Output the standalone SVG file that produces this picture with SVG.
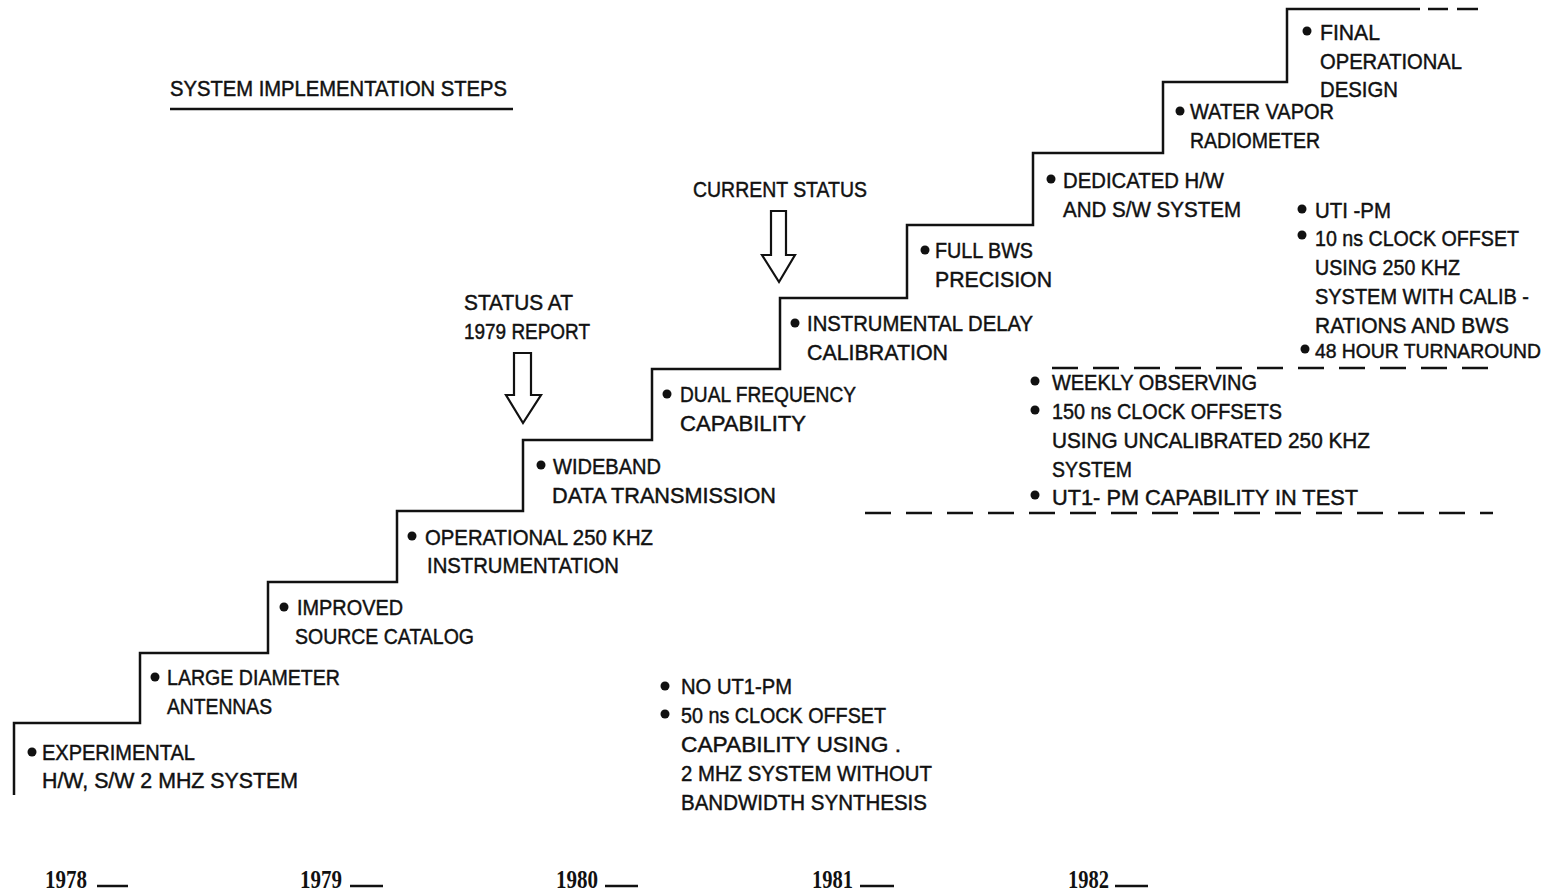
<svg xmlns="http://www.w3.org/2000/svg" width="1550" height="893" viewBox="0 0 1550 893">
<style>
.t{font-family:"Liberation Sans","Arial",sans-serif;font-size:22px;fill:#111;stroke:#111;stroke-width:0.45;}
.y{font-family:"Liberation Serif","Times New Roman",serif;font-size:25px;font-weight:bold;fill:#111;}
.ln{stroke:#111;stroke-width:2.5;fill:none;}
.ds{stroke:#111;stroke-width:2.5;fill:none;stroke-dasharray:26 15;}
.ar{stroke:#111;stroke-width:2.2;fill:#fff;}
circle{fill:#111;}
</style>
<rect width="1550" height="893" fill="#fff"/>
<g id="title">
<text class="t" x="170" y="96" textLength="337" lengthAdjust="spacingAndGlyphs">SYSTEM IMPLEMENTATION STEPS</text>
<line class="ln" x1="170" y1="109" x2="513" y2="109" stroke-width="1.8"/>
</g>
<g id="connectors">
<polyline class="ln" points="14,795 14,723 140,723 140,653 268,653 268,582 397,582 397,511 523,511 523,440 652,440 652,369 780,369 780,298 907,298 907,225 1033,225 1033,153 1163,153 1163,82 1287,82 1287,9 1420,9"/>
<line class="ln" x1="1428" y1="9" x2="1448" y2="9"/>
<line class="ln" x1="1457" y1="9" x2="1478" y2="9"/>
<line class="ds" x1="1052" y1="368" x2="1493" y2="368"/>
<line class="ds" x1="865" y1="513" x2="1493" y2="513"/>
</g>
<g id="arrow-1979"><polygon class="ar" points="514,353 531,353 531,395 541,395 523,423 506,395 514,395"/></g>
<g id="arrow-current"><polygon class="ar" points="771,211 786,211 786,255 795,255 779,282 762,255 771,255"/></g>
<g id="label-1979">
<text class="t" x="464" y="310" textLength="109" lengthAdjust="spacingAndGlyphs">STATUS AT</text>
<text class="t" x="464" y="339" textLength="126" lengthAdjust="spacingAndGlyphs">1979 REPORT</text>
</g>
<g id="label-current">
<text class="t" x="693" y="197" textLength="174" lengthAdjust="spacingAndGlyphs">CURRENT STATUS</text>
</g>
<g id="step1">
<circle cx="32" cy="752" r="4.5"/>
<text class="t" x="42" y="760" textLength="153" lengthAdjust="spacingAndGlyphs">EXPERIMENTAL</text>
<text class="t" x="42" y="788" textLength="256" lengthAdjust="spacingAndGlyphs">H/W, S/W 2 MHZ SYSTEM</text>
</g>
<g id="step2">
<circle cx="155" cy="677" r="4.5"/>
<text class="t" x="167" y="685" textLength="173" lengthAdjust="spacingAndGlyphs">LARGE DIAMETER</text>
<text class="t" x="167" y="714" textLength="105" lengthAdjust="spacingAndGlyphs">ANTENNAS</text>
</g>
<g id="step3">
<circle cx="284" cy="607" r="4.5"/>
<text class="t" x="297" y="615" textLength="106" lengthAdjust="spacingAndGlyphs">IMPROVED</text>
<text class="t" x="295" y="644" textLength="179" lengthAdjust="spacingAndGlyphs">SOURCE CATALOG</text>
</g>
<g id="step4">
<circle cx="412" cy="536" r="4.5"/>
<text class="t" x="425" y="545" textLength="228" lengthAdjust="spacingAndGlyphs">OPERATIONAL 250 KHZ</text>
<text class="t" x="427" y="573" textLength="192" lengthAdjust="spacingAndGlyphs">INSTRUMENTATION</text>
</g>
<g id="step5">
<circle cx="541" cy="465" r="4.5"/>
<text class="t" x="553" y="474" textLength="108" lengthAdjust="spacingAndGlyphs">WIDEBAND</text>
<text class="t" x="552" y="503" textLength="224" lengthAdjust="spacingAndGlyphs">DATA TRANSMISSION</text>
</g>
<g id="step6">
<circle cx="667" cy="394" r="4.5"/>
<text class="t" x="680" y="402" textLength="176" lengthAdjust="spacingAndGlyphs">DUAL FREQUENCY</text>
<text class="t" x="680" y="431" textLength="126" lengthAdjust="spacingAndGlyphs">CAPABILITY</text>
</g>
<g id="step7">
<circle cx="795" cy="323" r="4.5"/>
<text class="t" x="807" y="331" textLength="226" lengthAdjust="spacingAndGlyphs">INSTRUMENTAL DELAY</text>
<text class="t" x="807" y="360" textLength="141" lengthAdjust="spacingAndGlyphs">CALIBRATION</text>
</g>
<g id="step8">
<circle cx="925" cy="250" r="4.5"/>
<text class="t" x="935" y="258" textLength="98" lengthAdjust="spacingAndGlyphs">FULL BWS</text>
<text class="t" x="935" y="287" textLength="117" lengthAdjust="spacingAndGlyphs">PRECISION</text>
</g>
<g id="step9">
<circle cx="1051" cy="179" r="4.5"/>
<text class="t" x="1063" y="188" textLength="161" lengthAdjust="spacingAndGlyphs">DEDICATED H/W</text>
<text class="t" x="1063" y="217" textLength="178" lengthAdjust="spacingAndGlyphs">AND S/W SYSTEM</text>
</g>
<g id="step10">
<circle cx="1180" cy="111" r="4.5"/>
<text class="t" x="1190" y="119" textLength="144" lengthAdjust="spacingAndGlyphs">WATER VAPOR</text>
<text class="t" x="1190" y="148" textLength="130" lengthAdjust="spacingAndGlyphs">RADIOMETER</text>
</g>
<g id="step11">
<circle cx="1307" cy="31" r="4.5"/>
<text class="t" x="1320" y="40" textLength="60" lengthAdjust="spacingAndGlyphs">FINAL</text>
<text class="t" x="1320" y="69" textLength="142" lengthAdjust="spacingAndGlyphs">OPERATIONAL</text>
<text class="t" x="1320" y="97" textLength="78" lengthAdjust="spacingAndGlyphs">DESIGN</text>
</g>
<g id="goals">
<circle cx="1302" cy="209" r="4.5"/>
<text class="t" x="1315" y="218" textLength="76" lengthAdjust="spacingAndGlyphs">UTI -PM</text>
<circle cx="1302" cy="235" r="4.5"/>
<text class="t" x="1315" y="246" textLength="204" lengthAdjust="spacingAndGlyphs">10 ns CLOCK OFFSET</text>
<text class="t" x="1315" y="275" textLength="145" lengthAdjust="spacingAndGlyphs">USING 250 KHZ</text>
<text class="t" x="1315" y="304" textLength="214" lengthAdjust="spacingAndGlyphs">SYSTEM WITH CALIB -</text>
<text class="t" x="1315" y="333" textLength="194" lengthAdjust="spacingAndGlyphs">RATIONS AND BWS</text>
<circle cx="1305" cy="349" r="4.5"/>
<text class="t" x="1315" y="358" style="font-size:19.5px" textLength="226" lengthAdjust="spacingAndGlyphs">48 HOUR TURNAROUND</text>
</g>
<g id="current">
<circle cx="1035" cy="381" r="4.5"/>
<text class="t" x="1052" y="390" textLength="205" lengthAdjust="spacingAndGlyphs">WEEKLY OBSERVING</text>
<circle cx="1035" cy="410" r="4.5"/>
<text class="t" x="1052" y="419" textLength="230" lengthAdjust="spacingAndGlyphs">150 ns CLOCK OFFSETS</text>
<text class="t" x="1052" y="448" textLength="318" lengthAdjust="spacingAndGlyphs">USING UNCALIBRATED 250 KHZ</text>
<text class="t" x="1052" y="477" textLength="80" lengthAdjust="spacingAndGlyphs">SYSTEM</text>
<circle cx="1035" cy="495" r="4.5"/>
<text class="t" x="1052" y="505" textLength="306" lengthAdjust="spacingAndGlyphs">UT1- PM CAPABILITY IN TEST</text>
</g>
<g id="initial">
<circle cx="665" cy="686" r="4.5"/>
<text class="t" x="681" y="694" textLength="111" lengthAdjust="spacingAndGlyphs">NO UT1-PM</text>
<circle cx="665" cy="714" r="4.5"/>
<text class="t" x="681" y="723" textLength="205" lengthAdjust="spacingAndGlyphs">50 ns CLOCK OFFSET</text>
<text class="t" x="681" y="752" textLength="220" lengthAdjust="spacingAndGlyphs">CAPABILITY USING .</text>
<text class="t" x="681" y="781" textLength="251" lengthAdjust="spacingAndGlyphs">2 MHZ SYSTEM WITHOUT</text>
<text class="t" x="681" y="810" textLength="246" lengthAdjust="spacingAndGlyphs">BANDWIDTH SYNTHESIS</text>
</g>
<g id="years">
<text class="y" x="45" y="888" textLength="42" lengthAdjust="spacingAndGlyphs">1978</text>
<line class="ln" x1="97" y1="886" x2="128" y2="886" stroke-width="2"/>
<text class="y" x="300" y="888" textLength="42" lengthAdjust="spacingAndGlyphs">1979</text>
<line class="ln" x1="350" y1="886" x2="383" y2="886" stroke-width="2"/>
<text class="y" x="556" y="888" textLength="42" lengthAdjust="spacingAndGlyphs">1980</text>
<line class="ln" x1="605" y1="886" x2="638" y2="886" stroke-width="2"/>
<text class="y" x="812" y="888" textLength="41" lengthAdjust="spacingAndGlyphs">1981</text>
<line class="ln" x1="860" y1="886" x2="894" y2="886" stroke-width="2"/>
<text class="y" x="1068" y="888" textLength="41" lengthAdjust="spacingAndGlyphs">1982</text>
<line class="ln" x1="1115" y1="886" x2="1148" y2="886" stroke-width="2"/>
</g>
</svg>
